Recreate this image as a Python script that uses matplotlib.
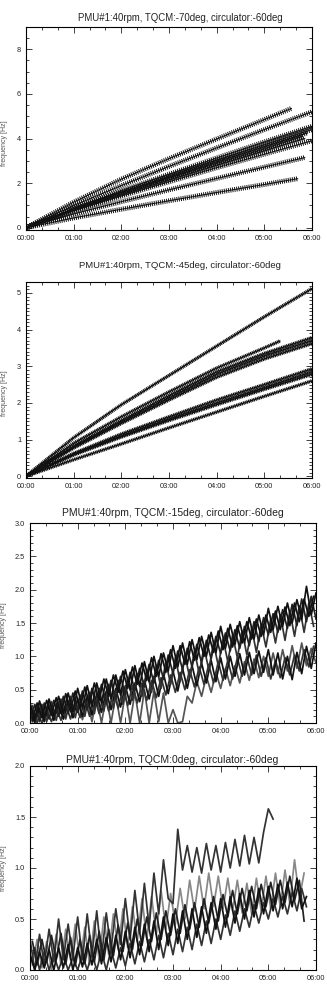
import numpy as np
import matplotlib
matplotlib.use('Agg')
import matplotlib.pyplot as plt
from matplotlib import patheffects as pe
from matplotlib.ticker import MultipleLocator, FuncFormatter, FormatStrFormatter

plt.rcParams['font.family'] = ['Liberation Sans', 'DejaVu Sans']

# ---- panel 1: TQCM -70deg (frequency vs elapsed hours)
p1_hours = [0, 1, 2, 3, 4, 5]
p1_end_hours = [5.57, 6.0, 6.0, 6.0, 5.9, 5.8, 5.85, 6.0, 5.85, 5.7]
p1_freq = [
    [0, 1.15, 2.18, 3.10, 3.98, 4.85, 5.35],
    [0, 1.00, 1.89, 2.75, 3.58, 4.40, 5.20],
    [0, 0.87, 1.66, 2.40, 3.13, 3.85, 4.55],
    [0, 0.85, 1.60, 2.32, 3.03, 3.72, 4.40],
    [0, 0.83, 1.57, 2.27, 2.96, 3.63, 4.25],
    [0, 0.81, 1.53, 2.21, 2.88, 3.53, 4.10],
    [0, 0.79, 1.49, 2.15, 2.81, 3.45, 4.00],
    [0, 0.75, 1.42, 2.06, 2.69, 3.30, 3.90],
    [0, 0.62, 1.17, 1.70, 2.21, 2.72, 3.15],
    [0, 0.44, 0.83, 1.21, 1.58, 1.94, 2.20],
]

# ---- panel 2: TQCM -45deg
p2_hours = [0, 1, 2, 3, 4, 5]
p2_end_hours = [6.0, 5.33, 6.0, 6.0, 6.0, 6.0, 6.0, 6.0, 6.0]
p2_freq = [
    [0, 1.05, 1.95, 2.75, 3.55, 4.35, 5.12],
    [0, 0.90, 1.62, 2.30, 2.95, 3.50, 3.69],
    [0, 0.82, 1.52, 2.20, 2.85, 3.35, 3.78],
    [0, 0.80, 1.48, 2.14, 2.78, 3.28, 3.70],
    [0, 0.77, 1.44, 2.08, 2.70, 3.20, 3.62],
    [0, 0.62, 1.15, 1.62, 2.08, 2.50, 2.93],
    [0, 0.60, 1.10, 1.56, 2.00, 2.42, 2.85],
    [0, 0.58, 1.07, 1.52, 1.95, 2.37, 2.78],
    [0, 0.45, 0.88, 1.32, 1.75, 2.18, 2.60],
]

# ---- panel 3: TQCM -15deg, sampled every 6 min (two interleaved sample grids)
p3_hours = np.round(np.arange(0, 6.001, 0.1), 2)
p3_hours_mid = np.round(np.arange(0.05, 6.0, 0.1), 2)
p3_a = [0.30, 0.05, 0.33, 0.08, 0.36, 0.10, 0.40, 0.14, 0.45, 0.17,
        0.52, 0.22, 0.56, 0.25, 0.60, 0.30, 0.66, 0.36, 0.72, 0.42,
        0.80, 0.50, 0.86, 0.55, 0.92, 0.62, 1.00, 0.70, 1.05, 0.78,
        1.16, 0.84, 1.20, 0.88, 1.25, 0.95, 1.30, 1.00, 1.36, 1.05,
        1.45, 1.12, 1.48, 1.18, 1.52, 1.20, 1.58, 1.26, 1.62, 1.32,
        1.72, 1.40, 1.75, 1.45, 1.80, 1.50, 1.85, 1.55, 2.05, 1.62,
        1.95]
p3_b = [0.00, 0.28, 0.02, 0.30, 0.06, 0.34, 0.10, 0.40, 0.14, 0.45,
        0.16, 0.48, 0.20, 0.52, 0.26, 0.58, 0.30, 0.64, 0.36, 0.70,
        0.42, 0.76, 0.48, 0.82, 0.54, 0.88, 0.60, 0.94, 0.66, 1.02,
        0.74, 1.08, 0.80, 1.12, 0.84, 1.18, 0.90, 1.24, 0.96, 1.30,
        1.04, 1.35, 1.08, 1.40, 1.12, 1.45, 1.16, 1.52, 1.22, 1.58,
        1.32, 1.64, 1.36, 1.70, 1.42, 1.78, 1.46, 1.86, 1.52, 1.90,
        1.56]
p3_e = [0.20, 0.00, 0.22, 0.02, 0.25, 0.04, 0.28, 0.06, 0.32, 0.08,
        0.36, 0.10, 0.40, 0.12, 0.44, 0.16, 0.48, 0.20, 0.52, 0.24,
        0.56, 0.28, 0.60, 0.32, 0.64, 0.36, 0.70, 0.40, 0.74, 0.44,
        0.78, 0.48, 0.82, 0.52, 0.86, 0.56, 0.90, 0.60, 0.94, 0.62,
        0.98, 0.66, 1.00, 0.70, 1.04, 0.72, 1.06, 0.74, 1.08, 0.76,
        1.10, 0.72, 1.05, 0.66, 1.00, 0.65, 1.06, 0.74, 1.15, 0.82,
        1.20]
p3_g = [0.25, 0.05, 0.28, 0.06, 0.30, 0.08, 0.32, 0.06, 0.34, 0.08,
        0.36, 0.05, 0.35, 0.02, 0.38, 0.00, 0.40, 0.00, 0.42, 0.00,
        0.45, 0.00, 0.46, 0.00, 0.50, 0.00, 0.48, 0.02, 0.45, 0.00,
        0.20, 0.00, 0.02, 0.40, 0.30, 0.62, 0.40, 0.70, 0.46, 0.76,
        0.52, 0.82, 0.56, 0.86, 0.60, 0.92, 0.64, 0.96, 0.68, 1.00,
        0.70, 1.05, 0.74, 1.10, 0.78, 1.16, 0.82, 1.20, 0.86, 1.12,
        0.90]
p3_c = [0.26, 0.00, 0.28, 0.02, 0.32, 0.04, 0.36, 0.06, 0.40, 0.08,
        0.42, 0.10, 0.46, 0.14, 0.52, 0.18, 0.58, 0.22, 0.64, 0.28,
        0.68, 0.34, 0.74, 0.40, 0.80, 0.46, 0.86, 0.52, 0.92, 0.58,
        0.98, 0.62, 1.02, 0.68, 1.08, 0.74, 1.14, 0.80, 1.20, 0.86,
        1.26, 0.92, 1.32, 0.98, 1.38, 1.02, 1.42, 1.06, 1.48, 1.14,
        1.56, 1.20, 1.62, 1.24, 1.68, 1.30, 1.76, 1.36, 1.80, 1.45]
p3_d = [0.04, 0.30, 0.08, 0.34, 0.12, 0.38, 0.14, 0.44, 0.18, 0.48,
        0.22, 0.54, 0.28, 0.60, 0.34, 0.66, 0.40, 0.72, 0.46, 0.78,
        0.52, 0.84, 0.58, 0.90, 0.64, 0.98, 0.70, 1.04, 0.76, 1.10,
        0.82, 1.16, 0.88, 1.22, 0.94, 1.28, 1.00, 1.32, 1.06, 1.38,
        1.10, 1.42, 1.14, 1.46, 1.20, 1.52, 1.26, 1.56, 1.30, 1.62,
        1.36, 1.68, 1.40, 1.74, 1.46, 1.80, 1.52, 1.86, 1.60, 1.90]
p3_f = [0.02, 0.18, 0.00, 0.20, 0.02, 0.24, 0.04, 0.28, 0.06, 0.32,
        0.08, 0.36, 0.10, 0.40, 0.14, 0.44, 0.18, 0.48, 0.22, 0.52,
        0.26, 0.56, 0.30, 0.60, 0.34, 0.64, 0.38, 0.68, 0.42, 0.72,
        0.46, 0.76, 0.50, 0.80, 0.54, 0.84, 0.58, 0.88, 0.60, 0.92,
        0.64, 0.94, 0.66, 0.98, 0.70, 1.00, 0.72, 1.02, 0.70, 0.98,
        0.66, 0.94, 0.68, 0.98, 0.72, 1.02, 0.78, 1.10, 0.84, 1.15]

# ---- panel 4: TQCM 0deg
p4_hours = np.round(np.arange(0, 5.801, 0.1), 2)
p4_hours_mid = np.round(np.arange(0.05, 5.8, 0.1), 2)
p4_jump_hours = np.round(np.arange(0, 5.101, 0.1), 2)
p4_jump = [0.30, 0.00, 0.35, 0.05, 0.40, 0.08, 0.50, 0.10, 0.45, 0.12,
           0.52, 0.10, 0.55, 0.14, 0.58, 0.12, 0.56, 0.20, 0.60, 0.25,
           0.70, 0.30, 0.78, 0.36, 0.85, 0.42, 0.95, 0.55, 1.08, 0.70,
           0.65, 1.38, 0.98, 1.22, 0.96, 1.20, 0.95, 1.24, 0.98, 1.22,
           0.96, 1.25, 1.00, 1.28, 1.02, 1.32, 1.04, 1.30, 1.05, 1.35,
           1.58, 1.48]
p4_c = [0.15, 0.00, 0.18, 0.02, 0.20, 0.00, 0.22, 0.02, 0.25, 0.00,
        0.22, 0.03, 0.26, 0.05, 0.30, 0.06, 0.32, 0.08, 0.34, 0.10,
        0.38, 0.12, 0.42, 0.15, 0.45, 0.18, 0.48, 0.20, 0.52, 0.24,
        0.55, 0.26, 0.58, 0.30, 0.60, 0.32, 0.62, 0.36, 0.66, 0.40,
        0.70, 0.42, 0.72, 0.46, 0.75, 0.50, 0.78, 0.52, 0.80, 0.55,
        0.82, 0.58, 0.84, 0.60, 0.86, 0.62, 0.90, 0.60, 0.72]
p4_e = [0.05, 0.22, 0.00, 0.18, 0.00, 0.15, 0.00, 0.14, 0.00, 0.12,
        0.00, 0.15, 0.00, 0.16, 0.00, 0.18, 0.00, 0.20, 0.02, 0.22,
        0.04, 0.26, 0.06, 0.28, 0.08, 0.30, 0.10, 0.34, 0.12, 0.36,
        0.15, 0.40, 0.18, 0.42, 0.20, 0.45, 0.24, 0.48, 0.26, 0.50,
        0.30, 0.54, 0.34, 0.58, 0.38, 0.60, 0.42, 0.64, 0.46, 0.66,
        0.50, 0.70, 0.52, 0.72, 0.55, 0.76, 0.58, 0.80, 0.62]
p4_b = [0.05, 0.30, 0.02, 0.28, 0.00, 0.35, 0.05, 0.40, 0.10, 0.45,
        0.08, 0.42, 0.05, 0.48, 0.10, 0.52, 0.15, 0.55, 0.20, 0.60,
        0.22, 0.62, 0.28, 0.70, 0.30, 0.72, 0.35, 0.78, 0.40, 0.75,
        0.45, 0.80, 0.50, 0.88, 0.58, 0.92, 0.60, 0.95, 0.62, 0.92,
        0.60, 0.90, 0.58, 0.88, 0.56, 0.85, 0.55, 0.90, 0.58, 0.92,
        0.60, 0.95, 0.62, 0.98, 0.65, 1.08, 0.70, 0.95]
p4_d = [0.28, 0.05, 0.30, 0.08, 0.34, 0.10, 0.36, 0.06, 0.32, 0.04,
        0.30, 0.06, 0.34, 0.08, 0.38, 0.10, 0.40, 0.14, 0.44, 0.18,
        0.46, 0.20, 0.50, 0.24, 0.52, 0.28, 0.56, 0.30, 0.58, 0.34,
        0.60, 0.36, 0.64, 0.40, 0.66, 0.42, 0.70, 0.46, 0.72, 0.48,
        0.74, 0.52, 0.78, 0.55, 0.80, 0.58, 0.82, 0.60, 0.84, 0.62,
        0.86, 0.64, 0.88, 0.66, 0.92, 0.68, 0.88, 0.48]

titles = [
    'PMU#1:40rpm, TQCM:-70deg, circulator:-60deg',
    'PMU#1:40rpm, TQCM:-45deg, circulator:-60deg',
    'PMU#1:40rpm, TQCM:-15deg, circulator:-60deg',
    'PMU#1:40rpm, TQCM:0deg, circulator:-60deg',
]


def wiggle(amp, spacing):
    # fine zigzag texture of the smooth traces
    return [pe.TickedStroke(spacing=spacing, angle=90, length=amp / spacing),
            pe.TickedStroke(spacing=spacing, angle=-90, length=amp / spacing),
            pe.Normal()]


fig = plt.figure(figsize=(3.27, 9.99), dpi=100)
W, H = 327, 999
boxes = [(26, 27, 312, 230), (26, 282, 312, 478), (30, 523, 316, 723), (30, 766, 316, 970)]
title_pos = [(180, 18), (180, 265), (173, 513), (172, 760)]
title_size = [6.9, 6.8, 7.45, 7.5]
label_pos = [(-0.063, 0.43), (-0.063, 0.434), (-0.082, 0.49), (-0.082, 0.5)]
axes = []
for i, (x0, y0, x1, y1) in enumerate(boxes):
    ax = fig.add_axes([x0 / W, 1 - y1 / H, (x1 - x0) / W, (y1 - y0) / H])
    axes.append(ax)
    ax.set_xlim(0, 6)
    ax.xaxis.set_major_locator(MultipleLocator(1))
    ax.xaxis.set_minor_locator(MultipleLocator(1 / 3))
    ax.xaxis.set_major_formatter(FuncFormatter(lambda v, p: '%02d:00' % round(v)))
    ax.tick_params(which='both', direction='in', top=True, right=True, width=0.6,
                   labelsize=5.3, colors='#222', pad=3.5)
    ax.tick_params(which='major', length=4.5)
    ax.tick_params(which='minor', length=2.2)
    for s in ax.spines.values():
        s.set_linewidth(0.8)
    ax.set_ylabel('frequency [Hz]', fontsize=5, color='#555')
    ax.yaxis.set_label_coords(*label_pos[i])
    fig.text(title_pos[i][0] / W, 1 - title_pos[i][1] / H, titles[i], ha='center', va='center',
             fontsize=title_size[i], color='#222')

ax = axes[0]
ax.set_ylim(-0.1, 9)
ax.yaxis.set_major_locator(MultipleLocator(2))
ax.yaxis.set_minor_locator(MultipleLocator(0.5))
for te, fr in zip(p1_end_hours, p1_freq):
    ax.plot(p1_hours + [te], fr, color='#111', lw=0.7, path_effects=wiggle(1.4, 1.5))

ax = axes[1]
ax.set_ylim(-0.05, 5.3)
ax.yaxis.set_major_locator(MultipleLocator(1))
ax.yaxis.set_minor_locator(MultipleLocator(0.1))
for te, fr in zip(p2_end_hours, p2_freq):
    ax.plot(p2_hours + [te], fr, color='#111', lw=0.8, path_effects=wiggle(0.9, 1.3))

lw34 = 1.25
ax = axes[2]
ax.set_ylim(0, 3)
ax.yaxis.set_major_locator(MultipleLocator(0.5))
ax.yaxis.set_minor_locator(MultipleLocator(0.1))
ax.yaxis.set_major_formatter(FormatStrFormatter('%.1f'))
ax.plot(p3_hours, p3_g, color='#555', lw=lw34)
ax.plot(p3_hours_mid, p3_f, color='#333', lw=lw34)
ax.plot(p3_hours, p3_e, color='#111', lw=lw34)
ax.plot(p3_hours_mid, p3_c, color='#333', lw=lw34)
ax.plot(p3_hours, p3_b, color='#222', lw=lw34)
ax.plot(p3_hours_mid, p3_d, color='#111', lw=lw34)
ax.plot(p3_hours, p3_a, color='#111', lw=lw34)

ax = axes[3]
ax.set_ylim(0, 2)
ax.yaxis.set_major_locator(MultipleLocator(0.5))
ax.yaxis.set_minor_locator(MultipleLocator(0.1))
ax.yaxis.set_major_formatter(FormatStrFormatter('%.1f'))
ax.plot(p4_hours_mid, p4_b, color='#888', lw=lw34)
ax.plot(p4_jump_hours, p4_jump, color='#333', lw=lw34)
ax.plot(p4_hours, p4_e, color='#333', lw=lw34)
ax.plot(p4_hours_mid, p4_d, color='#222', lw=lw34)
ax.plot(p4_hours, p4_c, color='#111', lw=lw34)

fig.savefig('out.png', dpi=100)
